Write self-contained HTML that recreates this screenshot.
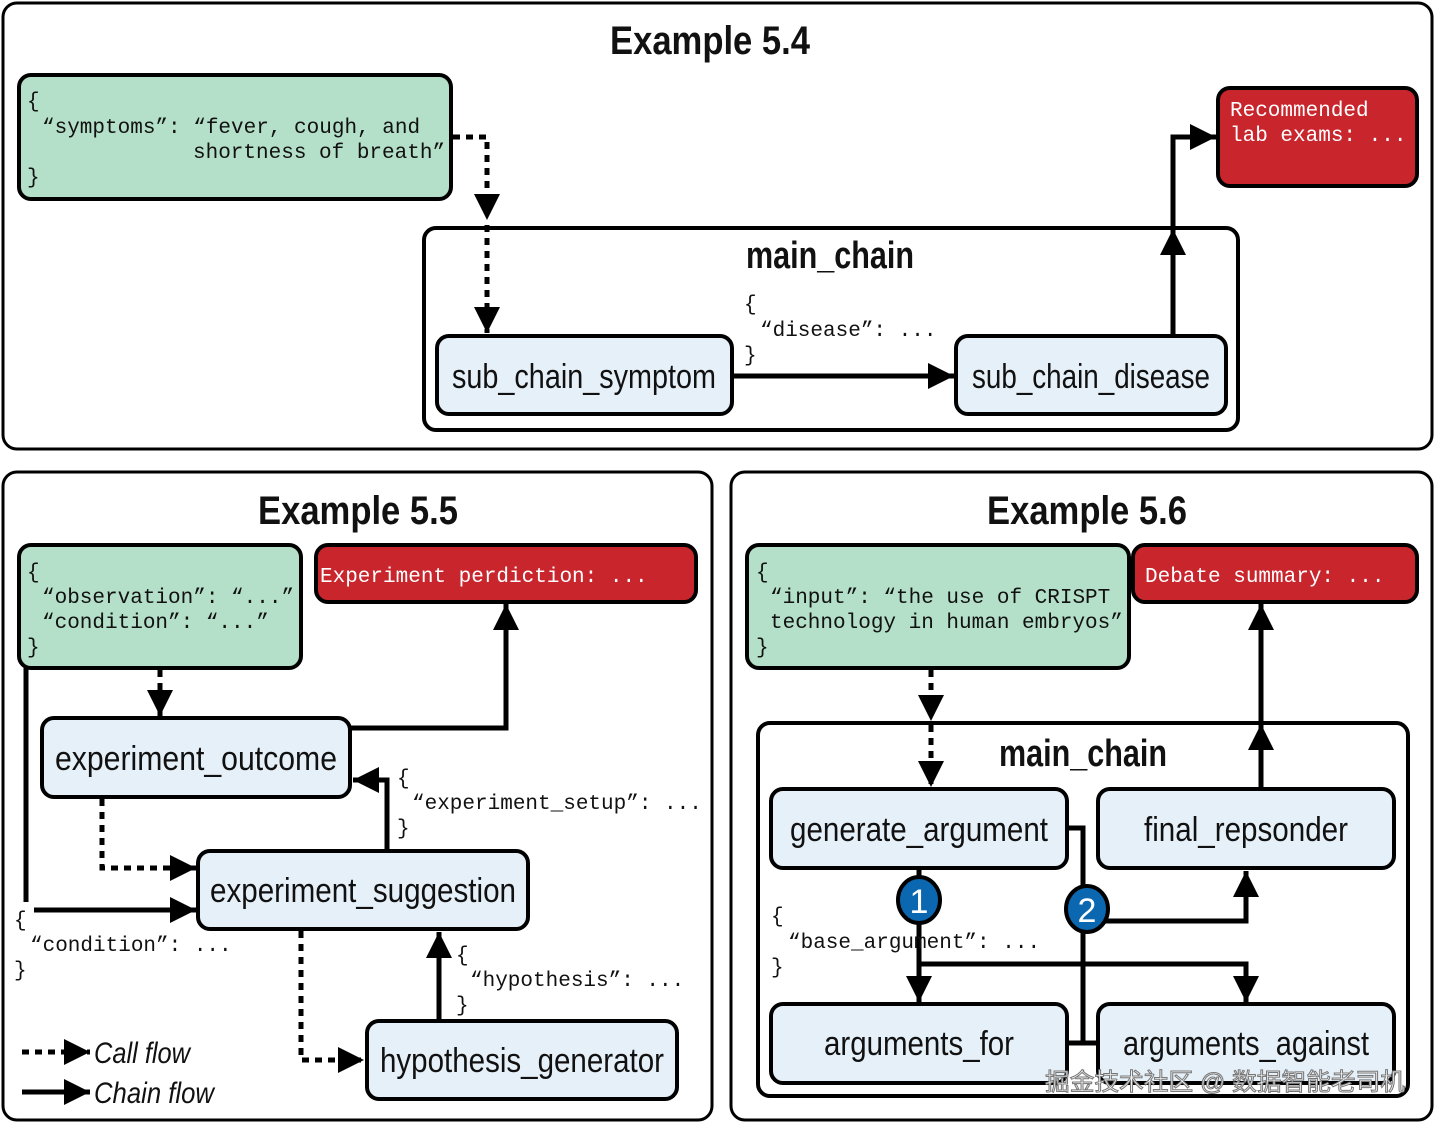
<!DOCTYPE html>
<html><head><meta charset="utf-8"><style>
html,body{margin:0;padding:0;background:#fff}
svg{display:block}
.m{font-family:"Liberation Mono",monospace;font-size:21px;fill:#111}
.w{fill:#fff}
.n{font-family:"Liberation Sans",sans-serif;font-size:34px;fill:#111}
.t{font-family:"Liberation Sans",sans-serif;font-size:40px;fill:#111;font-weight:bold}
.bo{font-weight:bold}
.s{stroke:#000;stroke-width:5;fill:none}
.d{stroke:#000;stroke-width:5;fill:none;stroke-dasharray:7 6}
.g{fill:#b4dfc8;stroke:#000;stroke-width:4}
.b{fill:#e6f0f8;stroke:#000;stroke-width:4}
.r{fill:#c8252d;stroke:#000;stroke-width:4}
.p{fill:#fff;stroke:#000;stroke-width:3}
.c{fill:#fff;stroke:#000;stroke-width:4}
</style></head><body>
<svg width="1434" height="1123" viewBox="0 0 1434 1123" xmlns="http://www.w3.org/2000/svg">
<defs>
<marker id="a" markerUnits="userSpaceOnUse" markerWidth="28" markerHeight="28" viewBox="0 0 28 28" refX="27" refY="14" orient="auto"><path d="M1,1 L27,14 L1,27 Z" fill="#000"/></marker>
</defs>
<!-- Panel 1 -->
<rect class="p" x="3" y="3" width="1429" height="446" rx="14"/>
<text class="t" x="710" y="54" text-anchor="middle" textLength="200" lengthAdjust="spacingAndGlyphs">Example 5.4</text>
<rect class="g" x="19" y="75" width="432" height="124" rx="12"/>
<text class="m" x="27" y="107">{</text>
<text class="m" x="42" y="133">“symptoms”: “fever, cough, and</text>
<text class="m" x="193" y="158">shortness of breath”</text>
<text class="m" x="27" y="183">}</text>
<rect class="c" x="424" y="228" width="814" height="202" rx="12"/>
<text class="n bo" x="830" y="268" text-anchor="middle" textLength="168" lengthAdjust="spacingAndGlyphs" style="font-size:38px">main_chain</text>
<path class="d" d="M453,137 H487 V220" marker-end="url(#a)"/>
<path class="d" d="M487,225 V333" marker-end="url(#a)"/>
<rect class="b" x="437" y="336" width="295" height="78" rx="12"/>
<text class="n" x="584" y="388" text-anchor="middle" textLength="264" lengthAdjust="spacingAndGlyphs">sub_chain_symptom</text>
<rect class="b" x="956" y="336" width="270" height="78" rx="12"/>
<text class="n" x="1091" y="388" text-anchor="middle" textLength="238" lengthAdjust="spacingAndGlyphs">sub_chain_disease</text>
<path class="s" d="M734,376 H954" marker-end="url(#a)"/>
<text class="m" x="744" y="310">{</text>
<text class="m" x="760" y="336">“disease”: ...</text>
<text class="m" x="744" y="361">}</text>
<path class="s" d="M1173,336 V229" marker-end="url(#a)"/>
<path class="s" d="M1173,240 V137 H1216" marker-end="url(#a)"/>
<rect class="r" x="1218" y="88" width="199" height="98" rx="12"/>
<text class="m w" x="1230" y="116">Recommended</text>
<text class="m w" x="1230" y="141">lab exams: ...</text>
<!-- Panel 2 -->
<rect class="p" x="3" y="472" width="709" height="648" rx="14"/>
<text class="t" x="358" y="524" text-anchor="middle" textLength="200" lengthAdjust="spacingAndGlyphs">Example 5.5</text>
<rect class="g" x="19" y="545" width="282" height="123" rx="12"/>
<text class="m" x="27" y="578">{</text>
<text class="m" x="42" y="603">“observation”: “...”</text>
<text class="m" x="42" y="628">“condition”: “...”</text>
<text class="m" x="27" y="653">}</text>
<rect class="r" x="316" y="545" width="380" height="57" rx="12"/>
<text class="m w" x="320" y="582">Experiment perdiction: ...</text>
<path class="d" d="M160,670 V716" marker-end="url(#a)"/>
<path class="s" d="M350,728 H506 V604" marker-end="url(#a)"/>
<rect class="b" x="42" y="718" width="308" height="79" rx="12"/>
<text class="n" x="196" y="770" text-anchor="middle" textLength="282" lengthAdjust="spacingAndGlyphs">experiment_outcome</text>
<path class="s" d="M387,851 V780 H353" marker-end="url(#a)"/>
<text class="m" x="397" y="784">{</text>
<text class="m" x="412" y="809">“experiment_setup”: ...</text>
<text class="m" x="397" y="834">}</text>
<path class="d" d="M102,799 V868 H196" marker-end="url(#a)"/>
<path class="s" d="M26,668 V902"/>
<path class="s" d="M34,910 H196" marker-end="url(#a)"/>
<text class="m" x="14" y="926">{</text>
<text class="m" x="30" y="951">“condition”: ...</text>
<text class="m" x="14" y="976">}</text>
<rect class="b" x="198" y="851" width="330" height="78" rx="12"/>
<text class="n" x="363" y="902" text-anchor="middle" textLength="306" lengthAdjust="spacingAndGlyphs">experiment_suggestion</text>
<path class="d" d="M301,931 V1060 H364" marker-end="url(#a)"/>
<path class="s" d="M439,1021 V932" marker-end="url(#a)"/>
<text class="m" x="456" y="961">{</text>
<text class="m" x="470" y="986">“hypothesis”: ...</text>
<text class="m" x="456" y="1011">}</text>
<rect class="b" x="367" y="1021" width="310" height="78" rx="12"/>
<text class="n" x="522" y="1072" text-anchor="middle" textLength="284" lengthAdjust="spacingAndGlyphs">hypothesis_generator</text>
<path class="d" d="M22,1052 H90" marker-end="url(#a)"/>
<text class="n" x="94" y="1063" style="font-size:30px;font-style:italic" textLength="96" lengthAdjust="spacingAndGlyphs">Call flow</text>
<path class="s" d="M22,1092 H90" marker-end="url(#a)"/>
<text class="n" x="94" y="1103" style="font-size:30px;font-style:italic" textLength="120" lengthAdjust="spacingAndGlyphs">Chain flow</text>
<!-- Panel 3 -->
<rect class="p" x="731" y="472" width="701" height="648" rx="14"/>
<text class="t" x="1087" y="524" text-anchor="middle" textLength="200" lengthAdjust="spacingAndGlyphs">Example 5.6</text>
<rect class="g" x="747" y="545" width="382" height="123" rx="12"/>
<text class="m" x="756" y="578">{</text>
<text class="m" x="770" y="603">“input”: “the use of CRISPT</text>
<text class="m" x="770" y="628">technology in human embryos”</text>
<text class="m" x="756" y="653">}</text>
<rect class="r" x="1133" y="545" width="284" height="57" rx="12"/>
<text class="m w" x="1145" y="582">Debate summary: ...</text>
<rect class="c" x="758" y="723" width="650" height="373" rx="12"/>
<text class="n bo" x="1083" y="766" text-anchor="middle" textLength="168" lengthAdjust="spacingAndGlyphs" style="font-size:38px">main_chain</text>
<path class="d" d="M931,670 V721" marker-end="url(#a)"/>
<path class="d" d="M931,725 V787" marker-end="url(#a)"/>
<path class="s" d="M1261,789 V724" marker-end="url(#a)"/>
<path class="s" d="M1261,735 V604" marker-end="url(#a)"/>
<rect class="b" x="771" y="789" width="296" height="79" rx="12"/>
<text class="n" x="919" y="841" text-anchor="middle" textLength="258" lengthAdjust="spacingAndGlyphs">generate_argument</text>
<rect class="b" x="1098" y="789" width="296" height="79" rx="12"/>
<text class="n" x="1246" y="841" text-anchor="middle" textLength="204" lengthAdjust="spacingAndGlyphs">final_repsonder</text>
<path class="s" d="M919,868 V1002" marker-end="url(#a)"/>
<path class="s" d="M919,964 H1246 V1002" marker-end="url(#a)"/>
<path class="s" d="M1067,828 H1083 V1043 H1067 M1083,1043 H1098"/>
<path class="s" d="M1083,921 H1246 V871" marker-end="url(#a)"/>
<text class="m" x="771" y="922">{</text>
<text class="m" x="788" y="948">“base_argument”: ...</text>
<text class="m" x="771" y="973">}</text>
<ellipse cx="919" cy="900" rx="21" ry="23" fill="#0b67b0" stroke="#000" stroke-width="4"/>
<text x="919" y="913" text-anchor="middle" style="font-family:'Liberation Sans',sans-serif;font-size:34px;fill:#fff">1</text>
<ellipse cx="1087" cy="909" rx="21" ry="23" fill="#0b67b0" stroke="#000" stroke-width="4"/>
<text x="1087" y="922" text-anchor="middle" style="font-family:'Liberation Sans',sans-serif;font-size:34px;fill:#fff">2</text>
<rect class="b" x="771" y="1004" width="296" height="79" rx="12"/>
<text class="n" x="919" y="1055" text-anchor="middle" textLength="190" lengthAdjust="spacingAndGlyphs">arguments_for</text>
<rect class="b" x="1098" y="1004" width="296" height="79" rx="12"/>
<text class="n" x="1246" y="1055" text-anchor="middle" textLength="246" lengthAdjust="spacingAndGlyphs">arguments_against</text>
<text x="1045" y="1090" style="font-family:'Liberation Sans','Noto Sans CJK SC',sans-serif;font-size:24px;fill:#f4f4f4;stroke:#777;stroke-width:1" textLength="360" lengthAdjust="spacingAndGlyphs">掘金技术社区 @ 数据智能老司机</text>
</svg>
</body></html>
